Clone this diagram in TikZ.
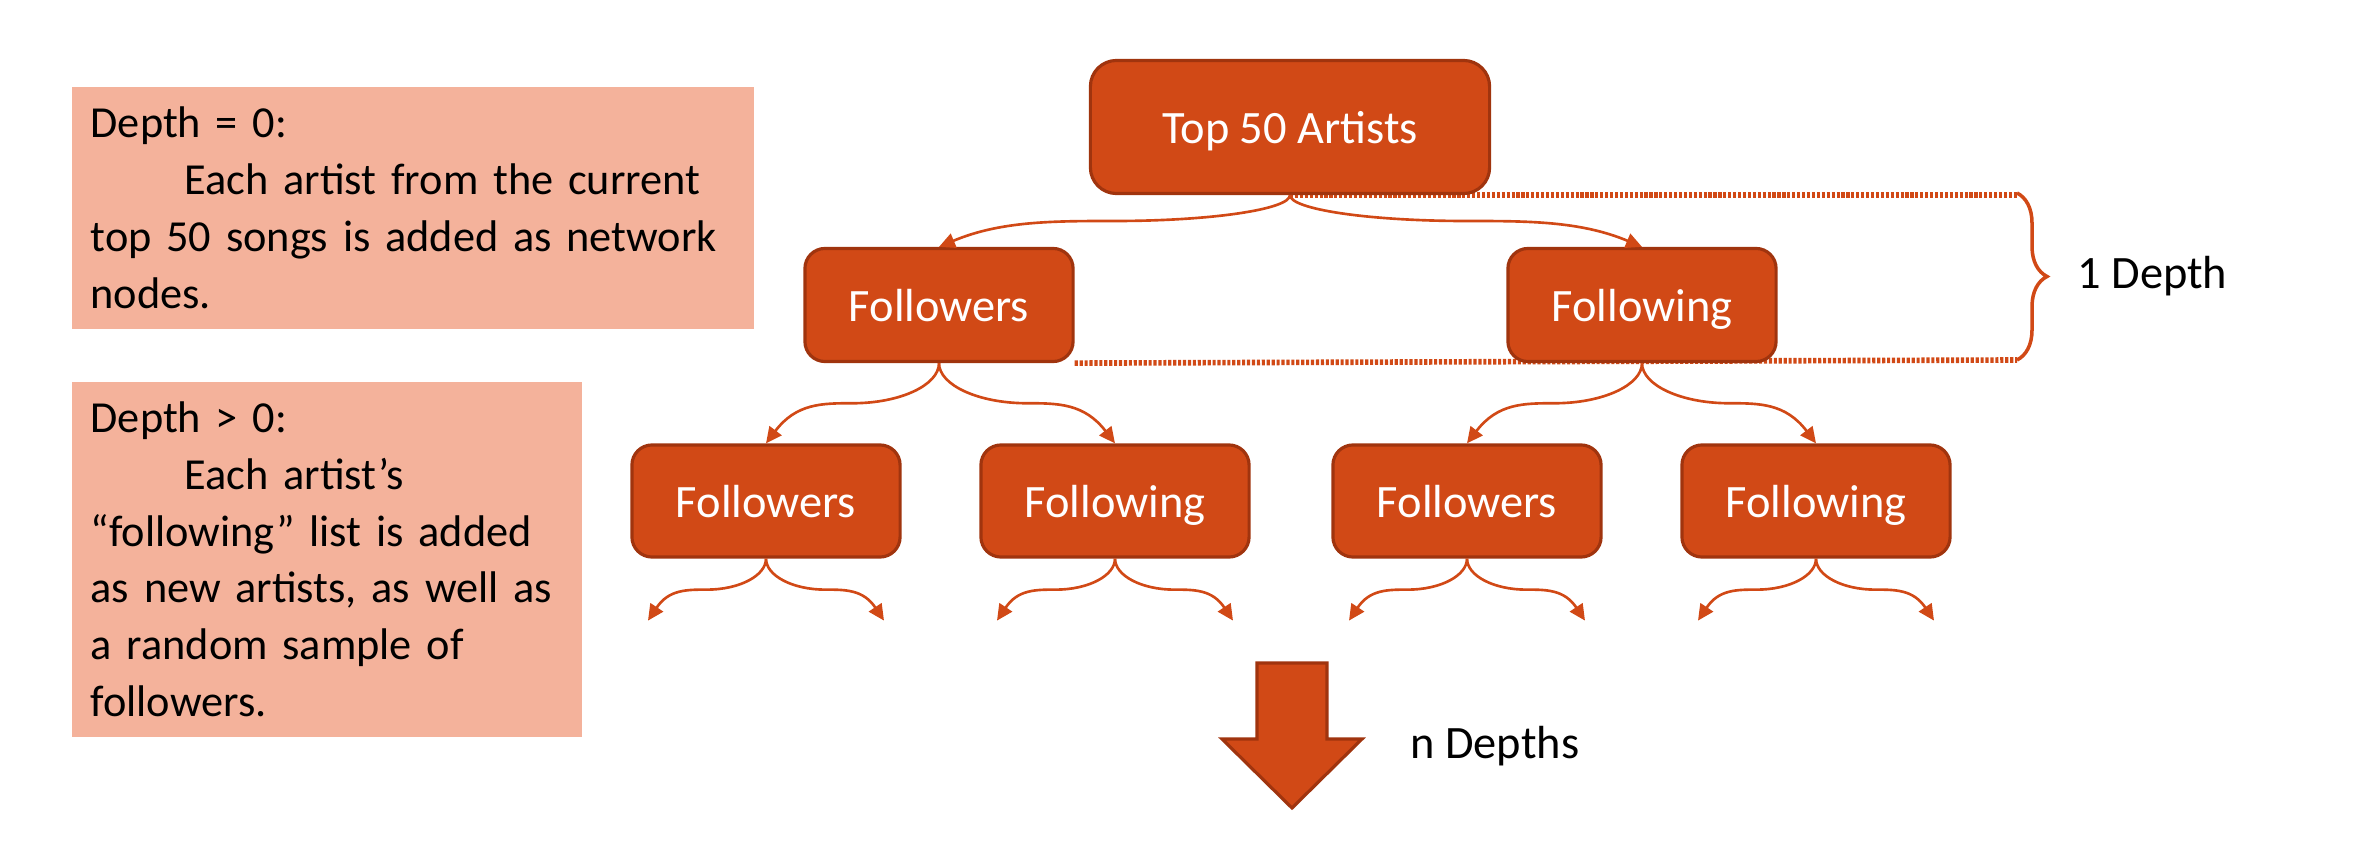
\documentclass[tikz,border=0pt]{standalone}
\usepackage{fontspec}
\setmainfont{Carlito}
\usetikzlibrary{positioning,calc,arrows.meta,decorations.pathreplacing,backgrounds}
\definecolor{rust}{RGB}{209,73,22}
\definecolor{rustdark}{RGB}{160,52,14}
\definecolor{salmon}{RGB}{244,178,155}

\begin{document}
\begin{tikzpicture}[x=0.01cm,y=-0.01cm,
	font=\fontsize{13.2}{16.2}\selectfont,
	box/.style={draw=rustdark,line width=0.9pt,fill=rust,text=white,rounded corners=0.2cm,
		text depth=0pt,minimum width=2.68cm,minimum height=1.12cm},
	note/.style={fill=salmon,anchor=north west,align=left,inner xsep=0.19cm,inner ysep=0pt,
		font=\fontsize{12.6}{16.2}\selectfont},
	link/.style={draw=rust,line width=0.75pt,-{Triangle[length=0.16cm,width=0.15cm]}},
	fork/.style={to path={let \p1=(\tikztostart), \p2=(\tikztotarget),
		\p3=($(\p1)!.5!(\p2)$) in
		(\p1) .. controls ($(\p1)!.55!(\x1,\y3)$) and ($(\p3)!.55!(\x1,\y3)$) .. (\p3)
		.. controls ($(\p3)!.35!(\x2,\y3)$) and ($(\x2,\y3)!.35!(\p3)$) .. (\p2)}},
	dots/.style={draw=rust,line width=1.6pt,dash pattern=on 0.9pt off 0.5pt},]

\useasboundingbox (0,0) rectangle (2360,843);

\node[note,minimum width=6.82cm,minimum height=2.42cm,text width=6.44cm] (zero) at (71,86)
	{Depth = 0:\\ \hspace*{0.94cm}Each artist from the current\\ top 50 songs is added as network\\ nodes.};
\node[note,minimum width=5.1cm,minimum height=3.55cm,text width=4.72cm] (more) at (71,381)
	{Depth > 0:\\ \hspace*{0.94cm}Each artist’s\\ “following” list is added\\ as new artists, as well as\\ a random sample of\\ followers.};

\node[box,minimum width=3.99cm,minimum height=1.33cm,rounded corners=0.26cm] (top) at (1290,127) {Top 50 Artists};
\node[box,minimum height=1.13cm] (fol) at (939,305) {Followers};
\node[box,minimum height=1.13cm] (fng) at (1642,305) {Following};

\node[box] (folfol) at (766,501) {Followers};
\node[box] (folfng) at (1115,501) {Following};
\node[box] (fngfol) at (1467,501) {Followers};
\node[box] (fngfng) at (1816,501) {Following};

\coordinate (b1) at (2017,193);
\coordinate (b2) at (2017,360);
\begin{scope}[on background layer]
\draw[dots] (top.south) -- (top.south -| b1);
\draw[dots] (fol.south east) -- (b2);
\end{scope}
\draw[rust,line width=1pt,decorate,decoration={brace,amplitude=0.3cm}] (b1) -- (b2);
\coordinate (tip) at ($(b1)!.5!(b2)+(30,0)$);
\node[right=0.18cm of tip] (onedepth) {1 Depth};

\draw[link,fork] (top.south) to (fol.north);
\draw[link,fork] (top.south) to (fng.north);
\draw[link,fork] (fol.south) to (folfol.north);
\draw[link,fork] (fol.south) to (folfng.north);
\draw[link,fork] (fng.south) to (fngfol.north);
\draw[link,fork] (fng.south) to (fngfng.north);

\foreach \leaf in {folfol,folfng,fngfol,fngfng}{
	\coordinate (\leaf l) at ($(\leaf.south)+(-118,62)$);
	\coordinate (\leaf r) at ($(\leaf.south)+(118,62)$);
	\draw[link,fork] (\leaf.south) to (\leaf l);
	\draw[link,fork] (\leaf.south) to (\leaf r);
}

\filldraw[fill=rust,draw=rustdark,line width=0.9pt] (1257,663) -- (1327,663) -- (1327,739) -- (1362,739)
	-- (1292,808) -- (1222,739) -- (1257,739) -- cycle;
\node[anchor=west] (ndepths) at (1398,746) {n Depths};
\end{tikzpicture}
\end{document}
